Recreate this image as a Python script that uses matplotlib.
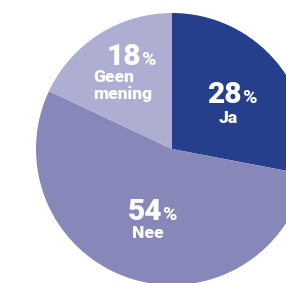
import matplotlib
matplotlib.use("Agg")
import matplotlib.pyplot as plt

# data
labels = ["Ja", "Nee", "Geen mening"]
values = [28, 54, 18]
colors = ["#253f8d", "#8788b9", "#aeaed2"]

W, H = 286, 283
fig = plt.figure(figsize=(W / 100, H / 100), dpi=100)
ax = fig.add_axes([0, 0, 1, 1])

# pie center at pixel (172, 149), radius 136 px
cx, cy, r = 172, 149, 136
ax.pie(values, colors=colors, startangle=90, counterclock=False,
       radius=1, center=(0, 0), wedgeprops=dict(linewidth=0))
ax.set_aspect("auto")
ax.set_xlim((0 - cx) / r, (W - cx) / r)
ax.set_ylim((cy - H) / r, (cy - 0) / r)
ax.axis("off")

font = "Roboto"


def fx(x):
    return x / W


def fy(y):
    return 1 - y / H


# big percentage numbers: (split x, baseline y) in pixels
pct_pos = {"Ja": (242, 103), "Nee": (162.5, 220), "Geen mening": (141, 65)}
for lab, v in zip(labels, values):
    x, y = pct_pos[lab]
    fig.text(fx(x), fy(y), str(v), ha="right", va="baseline", color="white",
             fontsize=21.5, fontweight="black", family=font)
    fig.text(fx(x), fy(y), "%", ha="left", va="baseline", color="white",
             fontsize=14, fontweight="black", family=font)

# category labels
lab_kw = dict(va="baseline", color="white", fontsize=12.5,
              fontweight="black", family=font)
fig.text(fx(228), fy(123), "Ja", ha="center", **lab_kw)
fig.text(fx(148), fy(238), "Nee", ha="center", **lab_kw)
fig.text(fx(93), fy(82), "Geen", ha="left", **lab_kw)
fig.text(fx(93), fy(99), "mening", ha="left", **lab_kw)

fig.savefig("out.png", dpi=100)
